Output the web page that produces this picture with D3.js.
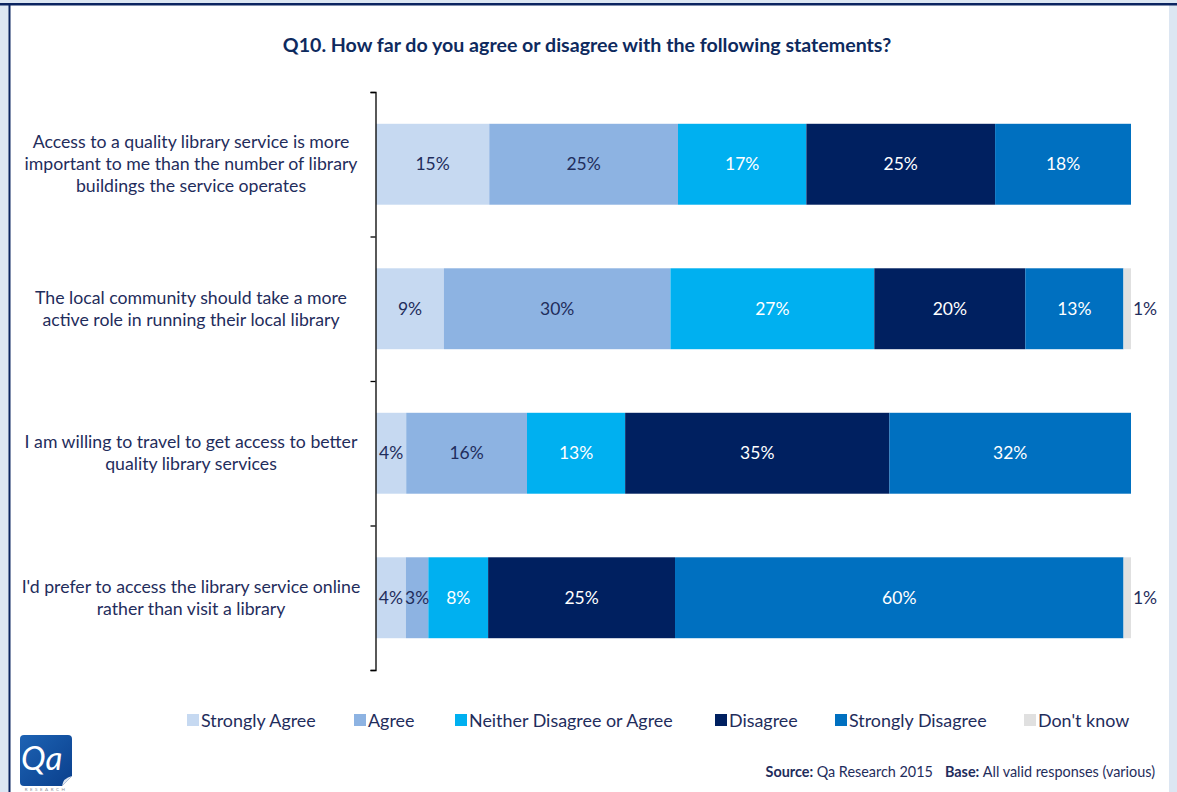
<!DOCTYPE html>
<html>
<head>
<meta charset="utf-8">
<script src="https://cdn.jsdelivr.net/npm/d3@7"></script>
<style>
  html, body { margin: 0; padding: 0; background: #dce6f2; }
  svg { display: block; }
  text { font-family: Lato, "Open Sans", sans-serif; }
</style>
</head>
<body>
<svg id="chart" width="1177" height="792"></svg>
<script>
// Statements (one bar each)
const statements = [
  ["Access to a quality library service is more", "important to me than the number of library", "buildings the service operates"],
  ["The local community should take a more", "active role in running their local library"],
  ["I am willing to travel to get access to better", "quality library services"],
  ["I'd prefer to access the library service online", "rather than visit a library"]
];

// Response options, in stacking order
const responses = ["Strongly Agree", "Agree", "Neither Disagree or Agree", "Disagree", "Strongly Disagree", "Don't know"];
const colors = ["#c6d9f1", "#8db3e2", "#00b0f0", "#002060", "#0070c0", "#e0e0e0"];
const labelColors = ["#1f2d5c", "#1f2d5c", "#ffffff", "#ffffff", "#ffffff", "#1f2d5c"];

// Percentages per statement, same order as responses
const stronglyAgree = [15, 9, 4, 4];
const agree = [25, 30, 16, 3];
const neither = [17, 27, 13, 8];
const disagree = [25, 20, 35, 25];
const stronglyDisagree = [18, 13, 32, 60];
const dontKnow = [0, 1, 0, 1];

const title = "Q10. How far do you agree or disagree with the following statements?";

const svg = d3.select("#chart");
const W = 1177, H = 792;
const navy = "#1f2d5c";

// Frame: white panel with navy border on top and left
svg.append("rect").attr("x", 10).attr("y", 5).attr("width", 1159).attr("height", H - 5).attr("fill", "#ffffff");
svg.append("rect").attr("x", 0).attr("y", 3).attr("width", W).attr("height", 2.5).attr("fill", "#0b2460");
svg.append("rect").attr("x", 8.5).attr("y", 3).attr("width", 2).attr("height", H - 3).attr("fill", "#0b2460");

svg.append("text")
  .attr("x", 587).attr("y", 52)
  .attr("text-anchor", "middle")
  .attr("font-size", 19.6).attr("font-weight", "bold")
  .attr("fill", "#0e2a5e")
  .text(title);

// Scales
const x = d3.scaleLinear().domain([0, 1]).range([376, 1131]);
const y = d3.scaleBand().domain(d3.range(statements.length)).range([92, 670])
  .paddingInner(0.44).paddingOuter(0.22);

// Build rows of segments (each row normalised to its total, 100% stacked)
const series = [stronglyAgree, agree, neither, disagree, stronglyDisagree, dontKnow];
const rows = statements.map((s, i) => {
  const vals = series.map(a => a[i]);
  const total = d3.sum(vals);
  let acc = 0;
  return vals.map((v, k) => {
    const seg = { row: i, k, v, x0: acc / total, x1: (acc + v) / total };
    acc += v;
    return seg;
  });
});

const segs = rows.flat().filter(d => d.v > 0);

svg.append("g").selectAll("rect")
  .data(segs).join("rect")
  .attr("x", d => x(d.x0))
  .attr("y", d => y(d.row))
  .attr("width", d => x(d.x1) - x(d.x0))
  .attr("height", y.bandwidth())
  .attr("fill", d => colors[d.k]);

// Value labels; "Don't know" sits just outside the bar end
svg.append("g").selectAll("text")
  .data(segs).join("text")
  .attr("x", d => d.k === 5 ? x(d.x1) + 14 : x((d.x0 + d.x1) / 2))
  .attr("y", d => y(d.row) + y.bandwidth() / 2 + 6)
  .attr("text-anchor", "middle")
  .attr("font-size", 17.5)
  .attr("fill", d => d.k === 5 ? navy : labelColors[d.k])
  .text(d => d.v + "%");

// Category axis with ticks at band boundaries
const edge = d3.scaleLinear().domain([0, statements.length]).range([92, 670]);
const axis = svg.append("g").attr("transform", "translate(375.5,0)")
  .call(d3.axisLeft(edge).ticks(statements.length).tickSize(5).tickSizeOuter(5).tickFormat(""));
axis.select(".domain").attr("stroke", "#000").attr("stroke-width", 1.3);
axis.selectAll(".tick line").attr("stroke", "#000").attr("stroke-width", 1.3);

// Statement labels, centred in the left margin
const cat = svg.append("g");
statements.forEach((lines, i) => {
  const cy = y(i) + y.bandwidth() / 2;
  const lh = 22;
  const t = cat.append("text")
    .attr("text-anchor", "middle")
    .attr("font-size", 17.7)
    .attr("fill", navy);
  lines.forEach((ln, j) => {
    t.append("tspan")
      .attr("x", 191)
      .attr("y", cy + (j - (lines.length - 1) / 2) * lh + 6)
      .text(ln);
  });
});

// Legend
const legendX = [187, 354, 455, 715, 835, 1024];
const lg = svg.append("g").selectAll("g")
  .data(responses).join("g")
  .attr("transform", (d, i) => `translate(${legendX[i]},714)`);
lg.append("rect").attr("width", 12).attr("height", 12).attr("fill", (d, i) => colors[i]);
lg.append("text").attr("x", 14).attr("y", 12.5).attr("font-size", 17.9).attr("fill", navy).text(d => d);

// Source note
const src = svg.append("text")
  .attr("x", 1155).attr("y", 777)
  .attr("text-anchor", "end")
  .attr("font-size", 14.4).attr("fill", navy);
src.append("tspan").attr("font-weight", "bold").text("Source: ");
src.append("tspan").text("Qa Research 2015");
src.append("tspan").attr("dx", 12).attr("font-weight", "bold").text("Base: ");
src.append("tspan").text("All valid responses (various)");

// Qa logo
const defs = svg.append("defs");
const grad = defs.append("linearGradient").attr("id", "logoGrad")
  .attr("x1", 0).attr("y1", 0).attr("x2", 1).attr("y2", 1);
grad.append("stop").attr("offset", "0%").attr("stop-color", "#1d63b4");
grad.append("stop").attr("offset", "100%").attr("stop-color", "#0a3f8c");
svg.append("path")
  .attr("d", "M24,735 H68 Q72,735 72,739 V776 L62,786 H24 Q20,786 20,782 V739 Q20,735 24,735 Z")
  .attr("fill", "url(#logoGrad)");
svg.append("path")
  .attr("d", "M72,776 L62,786 Q63,778 72,776 Z")
  .attr("fill", "#dfe6f0");
svg.append("text")
  .attr("x", 21).attr("y", 770)
  .attr("font-family", "'DejaVu Serif', 'Liberation Serif', serif")
  .attr("font-style", "italic")
  .attr("font-size", 33).attr("fill", "#ffffff")
  .text("Qa");
svg.append("text")
  .attr("x", 46).attr("y", 791)
  .attr("text-anchor", "middle")
  .attr("font-size", 4.5).attr("letter-spacing", 2.5)
  .attr("fill", "#8a8f99")
  .text("RESEARCH");
</script>
</body>
</html>
